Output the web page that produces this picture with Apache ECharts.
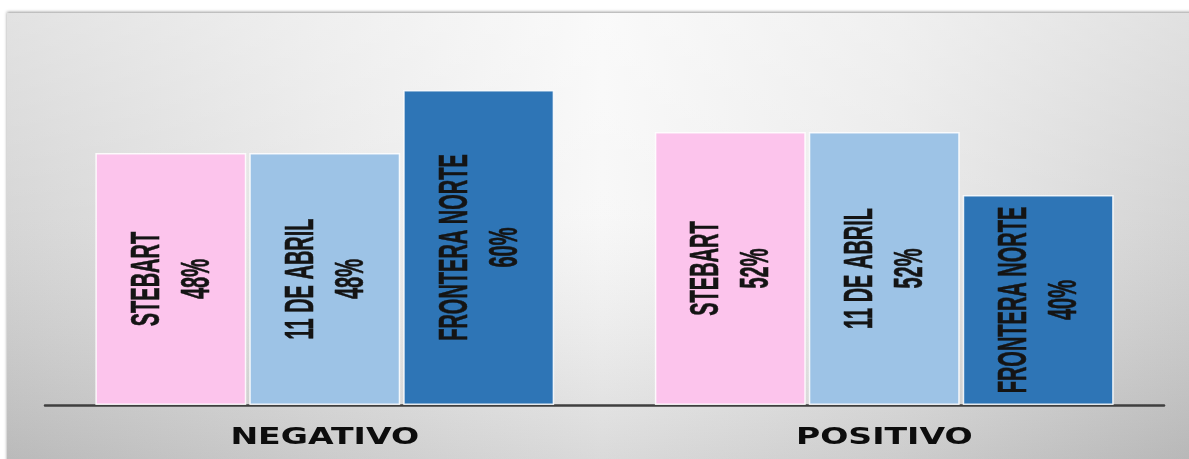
<!DOCTYPE html>
<html>
<head>
<meta charset="utf-8">
<script src="https://cdn.jsdelivr.net/npm/echarts@6/dist/echarts.min.js"></script>
<style>
  html, body { margin: 0; padding: 0; background: #ffffff; }
  #chart { width: 1189px; height: 459px; }
</style>
</head>
<body>
<div id="chart"></div>
<script>
// Survey results by outcome
const categories = ['NEGATIVO', 'POSITIVO'];
const seriesNames = ['STEBART', '11 DE ABRIL', 'FRONTERA NORTE'];
const stebartValues = [48, 52];
const abrilValues = [48, 52];
const fronteraValues = [60, 40];
const seriesColors = ['#fcc4ec', '#9dc3e6', '#2e75b6'];

const allValues = [stebartValues, abrilValues, fronteraValues];
const BAR_CATEGORY_GAP = 0.18;
const BAR_GAP = 0.02;

// label items: [categoryIndex, seriesIndex, value]
const labelData = [];
allValues.forEach(function (vals, s) {
  vals.forEach(function (v, c) { labelData.push([c, s, v]); });
});

const chart = echarts.init(document.getElementById('chart'), null, { renderer: 'canvas' });

const barSeries = seriesNames.map(function (name, s) {
  return {
    name: name,
    type: 'bar',
    data: allValues[s],
    barCategoryGap: (BAR_CATEGORY_GAP * 100) + '%',
    barGap: (BAR_GAP * 100) + '%',
    itemStyle: {
      color: seriesColors[s],
      borderColor: 'rgba(255,255,255,0.85)',
      borderWidth: 1.5
    },
    silent: true,
    z: 2
  };
});

// Condensed vertical labels inside each bar
const barLabelSeries = {
  type: 'custom',
  silent: true,
  z: 5,
  data: labelData,
  encode: { x: 0, y: 2 },
  renderItem: function (params, api) {
    const c = api.value(0);
    const s = api.value(1);
    const v = api.value(2);
    const base = api.coord([c, 0]);
    const top = api.coord([c, v]);
    const band = api.size([1, 0])[0];
    const n = seriesNames.length;
    const groupW = band * (1 - BAR_CATEGORY_GAP);
    const barW = groupW / (n + (n - 1) * BAR_GAP);
    const cx = base[0] - groupW / 2 + barW / 2 + s * barW * (1 + BAR_GAP) + 2;
    const cy = (base[1] + top[1]) / 2;
    return {
      type: 'text',
      x: cx,
      y: cy,
      rotation: Math.PI / 2,
      scaleX: 0.5,
      scaleY: 1,
      style: {
        text: seriesNames[s] + '\n' + v + '%',
        align: 'center',
        verticalAlign: 'middle',
        fontFamily: '"Liberation Sans", Arial, sans-serif',
        fontWeight: 'bold',
        fontSize: 40,
        lineHeight: 50,
        fill: '#141414',
        stroke: '#141414',
        lineWidth: 0.6
      }
    };
  }
};

// Wide category names under the axis
const categoryLabelSeries = {
  type: 'custom',
  silent: true,
  z: 5,
  data: categories.map(function (name, i) { return [i, 0]; }),
  encode: { x: 0, y: 1 },
  renderItem: function (params, api) {
    const i = api.value(0);
    const p = api.coord([i, 0]);
    return {
      type: 'text',
      x: p[0],
      y: p[1] + 33,
      scaleX: 1.44,
      scaleY: 1,
      style: {
        text: categories[i],
        align: 'center',
        verticalAlign: 'middle',
        fontFamily: '"DejaVu Sans", sans-serif',
        fontWeight: 'bold',
        fontSize: 23,
        fill: '#0d0d0d'
      }
    };
  }
};

chart.setOption({
  animation: false,
  backgroundColor: '#ffffff',
  graphic: [
    {
      // panel: light in the middle, greyer toward the sides
      type: 'rect',
      left: 7,
      top: 13,
      z: -10,
      silent: true,
      shape: { width: 1190, height: 450 },
      style: {
        fill: {
          type: 'linear',
          x: 0, y: 0, x2: 1, y2: 0,
          colorStops: [
            { offset: 0, color: '#d3d3d3' },
            { offset: 0.25, color: '#e6e6e6' },
            { offset: 0.5, color: '#f7f7f7' },
            { offset: 0.75, color: '#e8e8e8' },
            { offset: 1, color: '#d0d0d0' }
          ]
        },
        shadowBlur: 3,
        shadowColor: 'rgba(0,0,0,0.4)',
        shadowOffsetY: -1
      }
    },
    {
      // vertical shading: brighter at the top, darker at the bottom
      type: 'rect',
      left: 7,
      top: 13,
      z: -9,
      silent: true,
      shape: { width: 1190, height: 450 },
      style: {
        fill: {
          type: 'linear',
          x: 0, y: 0, x2: 0, y2: 1,
          colorStops: [
            { offset: 0, color: 'rgba(255,255,255,0.35)' },
            { offset: 0.45, color: 'rgba(255,255,255,0.08)' },
            { offset: 1, color: 'rgba(0,0,0,0.12)' }
          ]
        }
      }
    }
  ],
  grid: { left: 45, right: 25, top: 90, bottom: 54, containLabel: false },
  xAxis: {
    type: 'category',
    data: categories,
    axisLine: { show: true, lineStyle: { color: '#3f3f3f', width: 2.5 } },
    axisTick: { show: false },
    axisLabel: { show: false },
    splitLine: { show: false }
  },
  yAxis: {
    type: 'value',
    min: 0,
    max: 60,
    interval: 10,
    show: false,
    splitLine: { show: false }
  },
  series: barSeries.concat([barLabelSeries, categoryLabelSeries])
});
</script>
</body>
</html>
